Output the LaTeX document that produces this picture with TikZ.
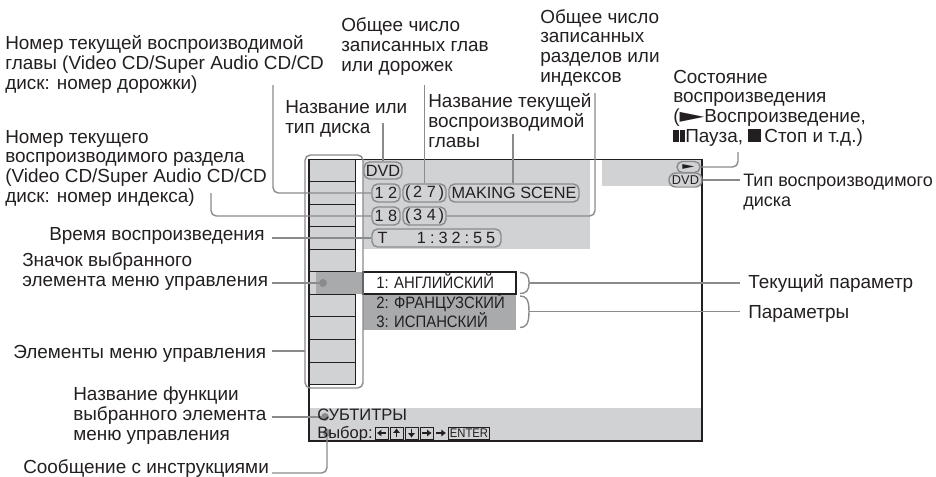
\documentclass[tikz,border=0pt]{standalone}
\usepackage{fontspec}
\setmainfont{Liberation Sans}
\newfontfamily\symfont{DejaVu Sans}
\usetikzlibrary{fit,arrows.meta}
\definecolor{ink}{HTML}{231F20}
\definecolor{band}{HTML}{D1D2D4}
\definecolor{deep}{HTML}{A9AAAC}
\definecolor{lead}{HTML}{8A8B8D}
\newcommand{\playg}{{\symfont\scalebox{1.7}[1.05]{►}}}
\newcommand{\pauseg}{\rule{4pt}{9pt}\hspace{1pt}\rule{4pt}{9pt}}
\newcommand{\stopg}{\rule{9.6pt}{9.6pt}}
\newcommand{\tightopt}[1]{\scalebox{0.9}[1]{#1}}
\tikzset{
  x=0.75pt,y=-0.75pt,
  lbl/.style={font=\fontsize{14.2}{14.7}\selectfont,text=ink,inner sep=0pt,align=left,anchor=base west},
  lblr/.style={font=\fontsize{14.2}{14.7}\selectfont,text=ink,inner sep=0pt,anchor=base east},
  band text/.style={font=\fontsize{12.4}{14.7}\selectfont,text=ink,inner sep=0pt,anchor=base west},
  leader/.style={draw=lead,line width=1.05pt,rounded corners=4pt},
  pill/.style={draw=lead,line width=1.05pt,rounded corners=4.2pt,inner sep=0pt,text=ink,font=\fontsize{12.2}{14}\selectfont,minimum width=#1*0.75pt},
  rowline/.style={draw=ink,line width=0.75pt},
  dot/.style={circle,fill=lead,inner sep=0pt,minimum size=6pt},
  region/.style={inner sep=0pt,outer sep=0pt},
  opt/.style={font=\fontsize{12.4}{13.5}\selectfont,text=ink,inner sep=0pt,anchor=base west},
  icon/.style={draw=ink,line width=0.6pt,inner sep=0pt,minimum height=9pt,minimum width=#1*0.75pt,font=\fontsize{9.4}{10}\selectfont,text=ink},
  iconarrow/.style={draw=ink,line width=1pt,-{Latex[length=3.4pt,width=5.6pt]}},
  brace/.style={draw=lead,line width=1.05pt}
}
\begin{document}
\begin{tikzpicture}
\useasboundingbox (0,0) rectangle (936,476);
% ---- screen fills
\node[region,fill=band,fit={(363,160)(590,249)}] (topband) {};
\node[region,fill=band,fit={(602,160)(702,186)}] (rightband) {};
\node[region,fill=band,fit={(309,160)(355,385)}] (column) {};
\node[region,fill=band,fit={(309,408)(702,441)}] (bottomband) {};
\node[region,fill=deep,fit={(316,272)(363,294)}] (selrow) {};
\node[region,fill=deep,fit={(363,294)(516,330)}] (options) {};
\node[region,fill=white,draw=ink,line width=0.8pt,fit={(363,272)(516,294)}] (current) {};
% ---- column rows
\foreach \yy in {181.7,204,226.7,249,271.7,294,316.7,339.7,362,384.6}
  \draw[rowline] (309,\yy) -- (355,\yy);
\draw[rowline] (355,160) -- (355,271.7);
\draw[rowline] (355,294) -- (355,384.6);
% ---- frame
\node[region,draw=ink,line width=1.3pt,fit={(309,159.5)(702,441)}] (screen) {};
% ---- pills
\node[pill=38,minimum height=17*0.75pt] (pdisc) at (383,170.5) {DVD};
\node[pill=28,minimum height=18*0.75pt] (p12) at (386,193) {1 2};
\node[pill=43,minimum height=18*0.75pt] (p27) at (424.5,193) {(\,2 7\,)};
\node[pill=130,minimum height=18*0.75pt] (pscene) at (514,193) {MAKING SCENE};
\node[pill=28,minimum height=18*0.75pt] (p18) at (386,216) {1 8};
\node[pill=43,minimum height=18*0.75pt] (p34) at (424.5,216) {(\,3 4\,)};
\node[pill=129,minimum height=18*0.75pt] (ptime) at (436.5,238) {T\hspace{22pt}1\hspace{3pt}:\hspace{3pt}3\hspace{3pt}2\hspace{3pt}:\hspace{3pt}5\hspace{3pt}5\hspace{5pt}};
\node[pill=23,minimum height=11*0.75pt,rounded corners=4pt] (pplay) at (688.5,167) {\fontsize{7}{7}\selectfont\playg};
\node[pill=33,minimum height=14*0.75pt,rounded corners=5pt,font=\fontsize{9.6}{10}\selectfont] (ptype) at (685.5,180) {DVD};
% ---- menu highlight
\node[region,draw=lead,line width=1.05pt,rounded corners=4pt,fit={(305,155)(363,388)}] (menu) {};
% ---- free ends of the connectors
\coordinate (e12) at (273,85);
\coordinate (e18) at (211,193);
\coordinate (etime) at (272,238);
\coordinate (eicon) at (272,283);
\coordinate (eitems) at (272,351);
\coordinate (efunc) at (272,417);
\coordinate (emsg) at (272,473);
\coordinate (edisc) at (383,123);
\coordinate (e27) at (424.5,85);
\coordinate (escene) at (513,134);
\coordinate (e34) at (595,93);
\coordinate (eplay) at (738,152);
\coordinate (etype) at (740,180);
\coordinate (ecur) at (740,283);
\coordinate (eopts) at (740,311.5);
\node[dot] (dicon) at (323,283) {};
\node[dot] (dfunc) at (325,417) {};
\node[dot] (dmsg) at (327,433) {};
% ---- connectors
\draw[leader] (e12) |- (p12.west);
\draw[leader] (e18) |- (p18.west);
\draw[leader] (etime) -- (ptime.west);
\draw[leader] (eicon) -- (dicon);
\draw[leader] (eitems) -- (eitems -| menu.west);
\draw[leader] (efunc) -- (dfunc);
\draw[leader] (emsg) -| (dmsg);
\draw[leader] (edisc) -- (edisc |- pdisc.north);
\draw[leader] (e27) -- (p27.north);
\draw[leader] (escene) -- (escene |- pscene.north);
\draw[leader] (e34) |- (p34.east);
\draw[leader] (eplay) |- (pplay.east);
\draw[leader] (ptype.east) -- (etype);
% ---- braces
\coordinate (b1t) at (520,272.5); \coordinate (b1b) at (520,293.5); \coordinate (b1m) at (529,283);
\coordinate (b2t) at (520,296); \coordinate (b2b) at (520,327.5); \coordinate (b2m) at (529,311.5);
\draw[brace] (b1t) .. controls (526,272.5) and (529,275) .. (b1m) .. controls (529,291) and (526,293.5) .. (b1b);
\draw[brace] (b2t) .. controls (526,296) and (529,299) .. (b2m) .. controls (529,324) and (526,327.5) .. (b2b);
\draw[leader] (b1m) -- (ecur);
\draw[leader] (b2m) -- (eopts);
% ---- option texts
\node[opt] (o1) at (376,288) {\tightopt{1: АНГЛИЙСКИЙ}};
\node[opt] (o2) at (376,308) {\tightopt{2: ФРАНЦУЗСКИЙ}};
\node[opt] (o3) at (376,327) {\tightopt{3: ИСПАНСКИЙ}};
% ---- bottom band
\node[band text] (sub) at (317,420) {СУБТИТРЫ};
\node[band text] (sel) at (317,438) {Выбор:};
\node[icon=13] (i1) at (381.5,433) {};
\node[icon=13] (i2) at (396.5,433) {};
\node[icon=13] (i3) at (411.5,433) {};
\node[icon=13] (i4) at (427,433) {};
\node[icon=41] (ienter) at (469,433) {\tightopt{ENTER}};
\draw[iconarrow] ([xshift=3.5pt]i1.center) -- ([xshift=-3.5pt]i1.center);
\draw[iconarrow] ([yshift=-3.2pt]i2.center) -- ([yshift=3.5pt]i2.center);
\draw[iconarrow] ([yshift=3.2pt]i3.center) -- ([yshift=-3.5pt]i3.center);
\draw[iconarrow] ([xshift=-3.5pt]i4.center) -- ([xshift=3.5pt]i4.center);
\coordinate (fa) at (436,433); \coordinate (fb) at (446,433);
\draw[iconarrow] (fa) -- (fb);
% ---- labels (the anchor is the baseline of the last line)
\node[lbl] (lA) at (5,89) {Номер текущей воспроизводимой\\главы (Video CD/Super Audio CD/CD\\диск: номер дорожки)};
\node[lbl] (lB) at (5,202) {Номер текущего\\воспроизводимого раздела\\(Video CD/Super Audio CD/CD\\диск: номер индекса)};
\node[lbl] (lC) at (341,71) {Общее число\\записанных глав\\или дорожек};
\node[lbl] (lD) at (285,133) {Название или\\тип диска};
\node[lbl] (lE) at (428,147) {Название текущей\\воспроизводимой\\главы};
\node[lbl] (lF) at (540,82) {Общее число\\записанных\\разделов или\\индексов};
\node[lbl] (lG) at (673,142) {Состояние\\воспроизведения\\(\playg Воспроизведение,\\\pauseg Пауза, \stopg\,Стоп и т.д.)};
\node[lbl,font=\fontsize{13.5}{14.7}\selectfont] (lH) at (743,206) {Тип воспроизводимого\\диска};
\node[lbl] (lI) at (748,288) {Текущий параметр};
\node[lbl] (lJ) at (748,318) {Параметры};
\node[lblr] (lK) at (265,240) {Время воспроизведения};
\node[lbl] (lL) at (22,286) {Значок выбранного\\элемента меню управления};
\node[lbl] (lM) at (13,358) {Элементы меню управления};
\node[lbl] (lN) at (73,440) {Название функции\\выбранного элемента\\меню управления};
\node[lbl] (lO) at (23,473) {Сообщение с инструкциями};
\end{tikzpicture}
\end{document}
